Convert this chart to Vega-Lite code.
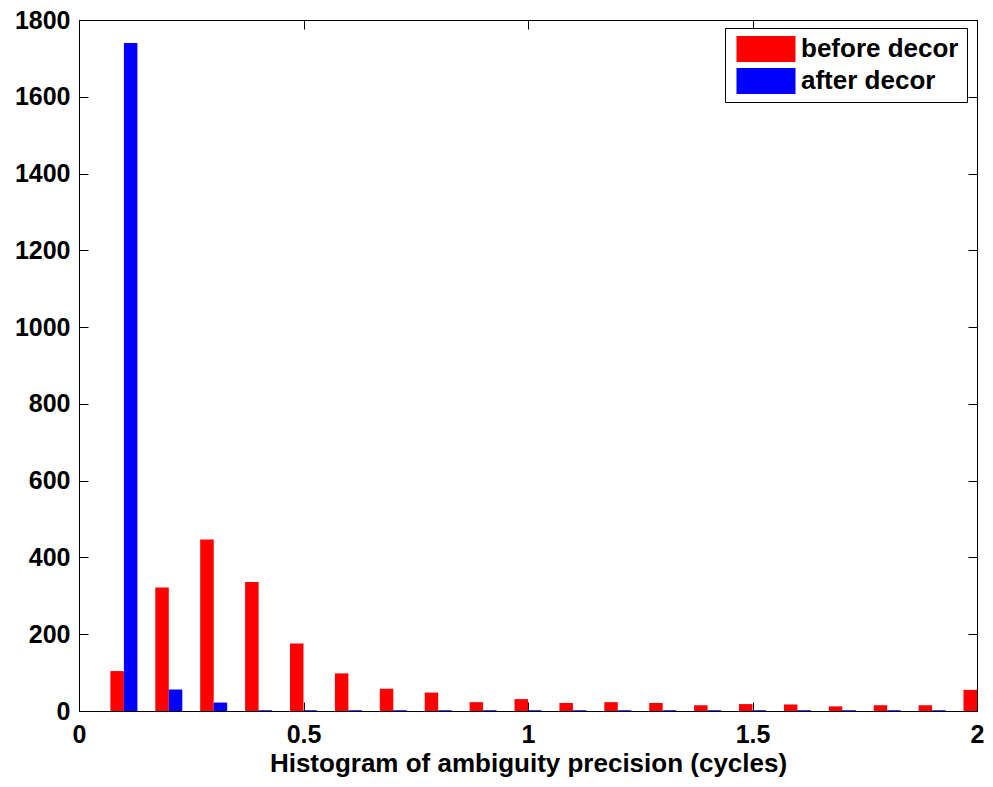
{
  "$schema": "https://vega.github.io/schema/vega-lite/v6.json",
  "autosize": "none",
  "width": 898,
  "height": 691,
  "padding": {"left": 79, "top": 20, "right": 16, "bottom": 76},
  "background": "white",
  "config": {
    "font": "Liberation Sans",
    "view": {"stroke": "black", "strokeWidth": 1},
    "scale": {"continuousPadding": 0},
    "axis": {
      "labelFont": "Liberation Sans", "labelFontSize": 25, "labelFontWeight": "bold", "labelColor": "black",
      "titleFont": "Liberation Sans", "titleFontSize": 26, "titleFontWeight": "bold", "titleColor": "black",
      "domainColor": "black", "tickColor": "black", "tickSize": -9, "grid": false
    }
  },
  "data": {"values": [
    {"bin": 0.1, "series": "before decor", "count": 104},
    {"bin": 0.2, "series": "before decor", "count": 322},
    {"bin": 0.3, "series": "before decor", "count": 447},
    {"bin": 0.4, "series": "before decor", "count": 336},
    {"bin": 0.5, "series": "before decor", "count": 176},
    {"bin": 0.6, "series": "before decor", "count": 98},
    {"bin": 0.7, "series": "before decor", "count": 58},
    {"bin": 0.8, "series": "before decor", "count": 48},
    {"bin": 0.9, "series": "before decor", "count": 23},
    {"bin": 1.0, "series": "before decor", "count": 31},
    {"bin": 1.1, "series": "before decor", "count": 21},
    {"bin": 1.2, "series": "before decor", "count": 23},
    {"bin": 1.3, "series": "before decor", "count": 21},
    {"bin": 1.4, "series": "before decor", "count": 15},
    {"bin": 1.5, "series": "before decor", "count": 18},
    {"bin": 1.6, "series": "before decor", "count": 17},
    {"bin": 1.7, "series": "before decor", "count": 12},
    {"bin": 1.8, "series": "before decor", "count": 15},
    {"bin": 1.9, "series": "before decor", "count": 15},
    {"bin": 2.0, "series": "before decor", "count": 55},
    {"bin": 0.1, "series": "after decor", "count": 1740},
    {"bin": 0.2, "series": "after decor", "count": 56},
    {"bin": 0.3, "series": "after decor", "count": 22},
    {"bin": 0.4, "series": "after decor", "count": 2},
    {"bin": 0.5, "series": "after decor", "count": 2},
    {"bin": 0.6, "series": "after decor", "count": 2},
    {"bin": 0.7, "series": "after decor", "count": 2},
    {"bin": 0.8, "series": "after decor", "count": 2},
    {"bin": 0.9, "series": "after decor", "count": 2},
    {"bin": 1.0, "series": "after decor", "count": 2},
    {"bin": 1.1, "series": "after decor", "count": 2},
    {"bin": 1.2, "series": "after decor", "count": 2},
    {"bin": 1.3, "series": "after decor", "count": 2},
    {"bin": 1.4, "series": "after decor", "count": 2},
    {"bin": 1.5, "series": "after decor", "count": 2},
    {"bin": 1.6, "series": "after decor", "count": 2},
    {"bin": 1.7, "series": "after decor", "count": 2},
    {"bin": 1.8, "series": "after decor", "count": 2},
    {"bin": 1.9, "series": "after decor", "count": 2},
    {"bin": 2.0, "series": "after decor", "count": 2}
  ]},
  "layer": [
    {
      "transform": [{"filter": "datum.series === 'before decor'"}],
      "mark": {"type": "bar", "width": 13.5, "xOffset": -6.75, "clip": true},
      "encoding": {
        "x": {"field": "bin", "type": "quantitative",
              "scale": {"domain": [0, 2], "nice": false, "zero": false, "padding": 0},
              "axis": {"orient": "bottom", "values": [0, 0.5, 1, 1.5, 2], "format": "~g", "labelPadding": 20, "labelFlush": false, "title": "Histogram of ambiguity precision (cycles)", "titlePadding": 3}},
        "y": {"field": "count", "type": "quantitative",
              "scale": {"domain": [0, 1800], "nice": false, "padding": 0},
              "axis": {"orient": "left", "values": [0, 200, 400, 600, 800, 1000, 1200, 1400, 1600, 1800], "format": "d", "labelPadding": 18, "labelFlush": false, "title": null}},
        "color": {"field": "series", "type": "nominal",
                  "scale": {"domain": ["before decor", "after decor"], "range": ["#ff0000", "#0000ff"]},
                  "legend": {"title": null, "orient": "none", "legendX": 646, "legendY": 8,
                             "labelFont": "Liberation Sans", "labelFontSize": 26, "labelFontWeight": "bold", "labelColor": "black",
                             "symbolType": "M-2.27,-1H2.27V1H-2.27Z", "symbolSize": 676, "symbolStrokeWidth": 0, "symbolOpacity": 1, "symbolOffset": 20,
                             "strokeColor": "black", "fillColor": "white", "padding": 8, "rowPadding": 6, "labelOffset": 22}}
      }
    },
    {
      "transform": [{"filter": "datum.series === 'after decor'"}],
      "mark": {"type": "bar", "width": 13.5, "xOffset": 6.75, "clip": true},
      "encoding": {
        "x": {"field": "bin", "type": "quantitative",
              "axis": {"orient": "top", "values": [0, 0.5, 1, 1.5, 2], "labels": false, "domain": false, "title": null}},
        "y": {"field": "count", "type": "quantitative",
              "axis": {"orient": "right", "values": [0, 200, 400, 600, 800, 1000, 1200, 1400, 1600, 1800], "labels": false, "domain": false, "title": null}},
        "color": {"field": "series", "type": "nominal"}
      }
    }
  ],
  "resolve": {"axis": {"x": "independent", "y": "independent"}}
}
